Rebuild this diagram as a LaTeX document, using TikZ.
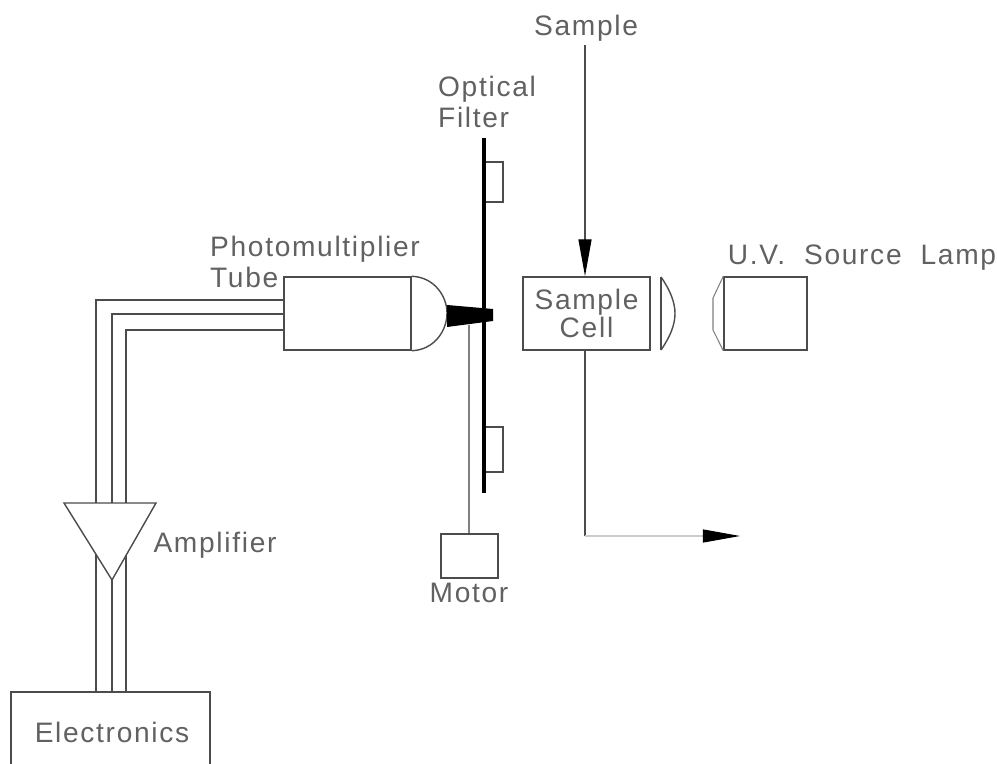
\documentclass[tikz,border=0pt]{standalone}
\usepackage{fontspec}
\setmainfont[LetterSpace=6]{Liberation Sans}
\usetikzlibrary{arrows.meta}

\tikzset{
  cadline/.style={draw=black!70, line width=0.4pt},
  thinline/.style={draw=black!50, line width=0.3pt},
  faintline/.style={draw=black!20, line width=0.3pt},
  cadbox/.style={cadline, rectangle, inner sep=0pt, text=black!62, font=\fontsize{8}{9}\selectfont, align=center},
  cadlabel/.style={inner sep=0pt, text=black!62, font=\fontsize{8}{9}\selectfont, align=left},
  flowtip/.style={-{Triangle[length=0.37cm,width=0.13cm,black]}},
}

\begin{document}
\begin{tikzpicture}[x=0.01cm, y=-0.01cm]
\useasboundingbox (0,0) rectangle (997,764);

\node[cadlabel] (samplelabel) at (586,28) {Sample};
\node[cadlabel] (filterlabel) at (487,102) {Optical\\Filter};
\node[cadlabel] (pmtlabel) at (315,262) {Photomultiplier\\Tube};
\node[cadlabel] (lamplabel) at (862,258) {U.V.\ \ Source\ \ Lamp};
\node[cadlabel] (amplabel) at (215,545) {Amplifier};
\node[cadlabel] (motorlabel) at (469,593) {Motor};
\node[cadlabel] (eleclabel) at (112,732) {Electronics};

\node[cadbox, minimum width=1.27cm, minimum height=0.73cm] (pmt) at (347.5,313.5) {};
\node[cadbox, minimum width=1.27cm, minimum height=0.73cm] (cell) at (586.5,313.5) {Sample\\[-1pt]Cell};
\node[cadbox, minimum width=0.83cm, minimum height=0.73cm] (lamp) at (765.5,313.5) {};
\node[cadbox, minimum width=0.57cm, minimum height=0.44cm] (motor) at (469.5,556) {};
\node[cadbox, minimum width=0.19cm, minimum height=0.40cm] (pad1) at (493.5,182) {};
\node[cadbox, minimum width=0.19cm, minimum height=0.45cm] (pad2) at (493.5,449.5) {};

\coordinate (samplein) at (585,45);
\coordinate (cellout) at (585,350);
\coordinate (bend) at (585,536);
\coordinate (sampleout) at (740,536);
\coordinate (filtertop) at (484,138);
\coordinate (filterbot) at (484,493);
\coordinate (domemid) at (447,313);
\coordinate (shaft) at (469,325);
\coordinate (lenstop) at (661,277);
\coordinate (lensbot) at (661,350);
\coordinate (ampleft) at (64,503);
\coordinate (ampright) at (156,503);
\coordinate (amptip) at (112,580);
\coordinate (eleca) at (11,764);
\coordinate (elecb) at (11,692);
\coordinate (elecc) at (210,692);
\coordinate (elecd) at (210,764);

% sample path
\draw[cadline, flowtip] (samplein) -- (samplein |- cell.north);
\draw[cadline] (cellout) -- (bend);
\draw[faintline, flowtip] (bend) -- (sampleout);

% filter wheel
\draw[draw=black, line width=1.3pt] (filtertop) -- (filterbot);
\draw[thinline] (shaft) -- (shaft |- motor.north);

% tube window
\draw[cadline] (pmt.north east) .. controls (434,277) and (447,296) .. (domemid)
  .. controls (447,331) and (434,350) .. (pmt.south east);
\fill[black] (447,305) -- (493,309) -- (493,321) -- (447,327) -- cycle;

% lenses
\draw[cadline] (lenstop) -- (lensbot);
\draw[cadline] (lenstop) .. controls (670,290) and (675,302) .. (675,313.5)
  .. controls (675,325) and (670,337) .. (lensbot);
\draw[thinline] (lamp.north west) -- (713,298) -- (713,330) -- (lamp.south west);

% cables
\draw[cadline] (pmt.west |- 0,300) -- (96,300) -- (96,503);
\draw[cadline] (pmt.west |- 0,314) -- (112,314) -- (112,503);
\draw[cadline] (pmt.west |- 0,330) -- (126,330) -- (126,503);
\draw[cadline] (ampleft) -- (ampright) -- (amptip) -- cycle;
\draw[cadline] (96,554) -- (96,692);
\draw[cadline] (amptip) -- (112,692);
\draw[cadline] (126,555) -- (126,692);
\draw[cadline] (eleca) -- (elecb) -- (elecc) -- (elecd);

\end{tikzpicture}
\end{document}
